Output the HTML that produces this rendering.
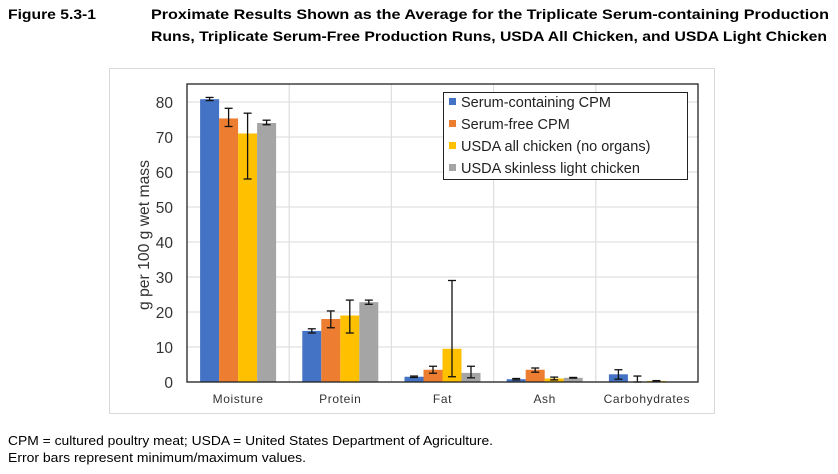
<!DOCTYPE html>
<html><head><meta charset="utf-8"><style>
body{margin:0;background:#fff;}
svg{display:block;font-family:"Liberation Sans",sans-serif;}
</style></head><body>
<svg width="838" height="474" viewBox="0 0 838 474">
<text x="8" y="19" font-size="14" font-weight="bold" textLength="88" lengthAdjust="spacingAndGlyphs">Figure 5.3-1</text>
<text x="151" y="19" font-size="14" font-weight="bold" textLength="678" lengthAdjust="spacingAndGlyphs">Proximate Results Shown as the Average for the Triplicate Serum-containing Production</text>
<text x="151" y="41" font-size="14" font-weight="bold" textLength="676" lengthAdjust="spacingAndGlyphs">Runs, Triplicate Serum-Free Production Runs, USDA All Chicken, and USDA Light Chicken</text>
<rect x="109.5" y="68.5" width="605" height="345" fill="#fff" stroke="#d9d9d9"/>
<g id="grid"></g>
<g id="bars"></g>
<rect x="187" y="84" width="511" height="298" fill="none" stroke="#222" stroke-width="1.3"/>
<g id="axes"></g>
<text transform="translate(149,235) rotate(-90)" font-size="15.5" text-anchor="middle" fill="#333" textLength="150" lengthAdjust="spacingAndGlyphs">g per 100 g wet mass</text>
<g>
<rect x="443.5" y="92.5" width="244" height="87" fill="#fff" stroke="#222"/>
<g id="legend"></g>
</g>
<text x="8" y="445" font-size="12.5" textLength="485" lengthAdjust="spacingAndGlyphs">CPM = cultured poultry meat; USDA = United States Department of Agriculture.</text>
<text x="8" y="462" font-size="12.5" textLength="298" lengthAdjust="spacingAndGlyphs">Error bars represent minimum/maximum values.</text>
</svg>
<script>
const categories=["Moisture","Protein","Fat","Ash","Carbohydrates"];
const seriesNames=["Serum-containing CPM","Serum-free CPM","USDA all chicken (no organs)","USDA skinless light chicken"];
const seriesColors=["#4472c4","#ed7d31","#ffc000","#a5a5a5"];
const serumContaining=[80.8,14.6,1.5,0.8,2.2];
const serumContainingMin=[80.4,14.0,1.3,0.6,0.8];
const serumContainingMax=[81.3,15.2,1.7,1.0,3.5];
const serumFree=[75.3,18.0,3.5,3.5,0];
const serumFreeMin=[73.0,15.5,2.5,2.8,0];
const serumFreeMax=[78.2,20.3,4.5,4.0,1.7];
const usdaAll=[71.0,19.0,9.5,1.0,0.3];
const usdaAllMin=[58.0,14.0,1.5,0.6,0.2];
const usdaAllMax=[76.8,23.4,29.0,1.4,0.4];
const usdaLight=[74.0,22.8,2.6,1.2,null];
const usdaLightMin=[73.5,22.2,1.2,1.1,null];
const usdaLightMax=[74.8,23.4,4.5,1.3,null];
const yTicks=[0,10,20,30,40,50,60,70,80];

const NS="http://www.w3.org/2000/svg";
const X0=187,X1=698,Y0=382,YTOP=84,YMAX=85.14;
const y=v=>Y0-(v/YMAX)*(Y0-YTOP);
const catW=(X1-X0)/categories.length;
const barW=19;
function mk(tag,attrs,parent){const e=document.createElementNS(NS,tag);for(const k in attrs)e.setAttribute(k,attrs[k]);parent.appendChild(e);return e;}
const grid=document.getElementById('grid'),bars=document.getElementById('bars'),axes=document.getElementById('axes'),legend=document.getElementById('legend');
yTicks.forEach(t=>{
  const l=mk('line',{x1:X0,x2:X1,y1:y(t),y2:y(t),stroke:'#e0e0e0','stroke-width':1.3},grid);
  
  
  const tx=mk('text',{x:X0-14,y:y(t)+6,'font-size':15.5,'text-anchor':'end',fill:'#333'},axes);
  tx.textContent=t;
  
  
});
for(let i=1;i<categories.length;i++){
  const l=mk('line',{x1:X0+i*catW,x2:X0+i*catW,y1:YTOP,y2:Y0,stroke:'#e0e0e0','stroke-width':1.3},grid);
  
  
}
const vals=[serumContaining,serumFree,usdaAll,usdaLight];
const mins=[serumContainingMin,serumFreeMin,usdaAllMin,usdaLightMin];
const maxs=[serumContainingMax,serumFreeMax,usdaAllMax,usdaLightMax];
categories.forEach((c,i)=>{
  const cx=X0+catW*(i+0.5);
  const start=cx-2*barW;
  vals.forEach((s,j)=>{
    const v=s[i]; if(v==null) return;
    const bx=start+j*barW;
    const r=mk('rect',{x:bx,y:y(v),width:barW,height:Y0-y(v),fill:seriesColors[j]},bars);
    
    
    const lo=mins[j][i],hi=maxs[j][i];
    if(lo!=null&&hi!=null){
      const ex=bx+barW/2;
      const g=mk('g',{stroke:'#111','stroke-width':1.3},bars);
      
      
      mk('line',{x1:ex,x2:ex,y1:y(hi),y2:y(lo)},g);
      mk('line',{x1:ex-4,x2:ex+4,y1:y(hi),y2:y(hi)},g);
      mk('line',{x1:ex-4,x2:ex+4,y1:y(lo),y2:y(lo)},g);
    }
  });
  const t=mk('text',{x:cx,y:403,'font-size':12,'text-anchor':'middle',fill:'#333','letter-spacing':'0.6'},axes);
  t.textContent=c;
  
  
});
seriesNames.forEach((n,j)=>{
  const ly=102+j*22;
  const sq=mk('rect',{x:449,y:ly-4,width:7,height:7,fill:seriesColors[j]},legend);
  
  
  const t=mk('text',{x:461,y:ly+5,'font-size':14.5,fill:'#222'},legend);
  t.textContent=n;
  
  
});
</script>
</body></html>
